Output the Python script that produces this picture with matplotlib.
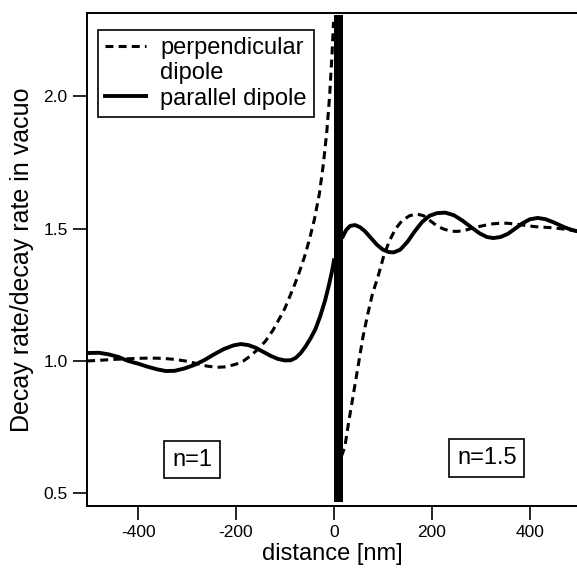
import matplotlib
matplotlib.use("Agg")
import matplotlib.pyplot as plt
from matplotlib.lines import Line2D

plt.rcParams["font.family"] = ["Liberation Sans", "DejaVu Sans"]
plt.rcParams["axes.unicode_minus"] = False

# perpendicular dipole (dashed), n=1 side and n=1.5 side
perp_left_x = [-504, -475, -450, -425, -400, -375, -350, -325, -300, -280, -260,
               -240, -220, -200, -185, -170, -155, -140, -125, -110, -100, -90,
               -80, -70, -60, -50, -40, -30, -22, -15, -9, -4, -1]
perp_left_y = [1.00, 1.003, 1.006, 1.008, 1.01, 1.011, 1.01, 1.006, 0.999, 0.99,
               0.981, 0.976, 0.978, 0.988, 1.0, 1.02, 1.045, 1.075, 1.115, 1.165,
               1.20, 1.245, 1.29, 1.34, 1.395, 1.46, 1.535, 1.63, 1.74, 1.86,
               2.0, 2.16, 2.28]
perp_right_x = [15, 22, 30, 40, 50, 59, 68, 78, 90, 102, 114, 126, 139, 154, 169,
                183, 196, 210, 225, 240, 251, 265, 280, 295, 310, 325, 340, 353,
                370, 390, 410, 427, 445, 460, 480, 496]
perp_right_y = [0.64, 0.675, 0.77, 0.88, 0.99, 1.09, 1.17, 1.25, 1.32, 1.40, 1.457,
                1.50, 1.53, 1.548, 1.555, 1.548, 1.53, 1.51, 1.497, 1.49, 1.489,
                1.492, 1.50, 1.507, 1.513, 1.518, 1.52, 1.52, 1.517, 1.512, 1.507,
                1.505, 1.503, 1.50, 1.495, 1.49]

# parallel dipole (solid)
par_left_x = [-504, -480, -460, -440, -420, -400, -380, -360, -343, -325, -305,
              -285, -265, -245, -225, -205, -190, -175, -160, -145, -130, -115,
              -100, -88, -78, -68, -58, -48, -38, -28, -18, -10, -4, 0]
par_left_y = [1.03, 1.031, 1.025, 1.015, 1.0, 0.99, 0.978, 0.968, 0.962, 0.963,
              0.972, 0.985, 1.003, 1.025, 1.045, 1.059, 1.064, 1.06, 1.05, 1.035,
              1.02, 1.008, 1.002, 1.003, 1.012, 1.03, 1.055, 1.085, 1.12, 1.17,
              1.23, 1.29, 1.34, 1.38]
par_right_x = [18, 25, 33, 43, 53, 63, 75, 88, 100, 112, 122, 135, 150, 165, 180,
               195, 210, 227, 245, 262, 280, 297, 312, 325, 340, 355, 370, 385,
               400, 416, 432, 450, 470, 485, 496]
par_right_y = [1.47, 1.495, 1.51, 1.513, 1.505, 1.49, 1.465, 1.438, 1.42, 1.411,
               1.41, 1.42, 1.45, 1.49, 1.525, 1.548, 1.558, 1.56, 1.55, 1.53,
               1.505, 1.482, 1.468, 1.464, 1.468, 1.48, 1.50, 1.52, 1.535, 1.54,
               1.535, 1.522, 1.505, 1.495, 1.49]

# interface layer (thick black bar)
layer_x = [0, 18]
layer_y = [0.468, 2.305]

region_labels = ["n=1", "n=1.5"]
region_x = [-290, 312]
region_y = [0.628, 0.634]

fig = plt.figure(figsize=(5.77, 5.71), dpi=100)
ax = fig.add_axes([0.151, 0.114, 0.849, 0.863])

ax.fill_between(layer_x, layer_y[0], layer_y[1], color="black", lw=0, zorder=3)

dash_kw = dict(color="black", lw=2.2, dashes=(2.6, 1.7))
solid_kw = dict(color="black", lw=2.8, solid_joinstyle="round")
ax.plot(perp_left_x, perp_left_y, **dash_kw)
ax.plot(perp_right_x, perp_right_y, **dash_kw)
ax.plot(par_left_x, par_left_y, **solid_kw)
ax.plot(par_right_x, par_right_y, **solid_kw)

ax.set_xlim(-504, 496)
ax.set_ylim(0.453, 2.313)
ax.set_xticks([-400, -200, 0, 200, 400])
ax.set_yticks([0.5, 1.0, 1.5, 2.0])
ax.set_yticklabels(["0.5", "1.0", "1.5", "2.0"])
ax.tick_params(direction="out", length=10, width=1.2, labelsize=12.5, pad=4)
ax.spines["right"].set_visible(False)
for s in ["left", "bottom", "top"]:
    ax.spines[s].set_linewidth(1.4)

ax.set_xlabel("distance [nm]", fontsize=17, labelpad=2)
ax.set_ylabel("Decay rate/decay rate in vacuo", fontsize=18, labelpad=7)

for lab, x, y in zip(region_labels, region_x, region_y):
    ax.text(x, y, lab, fontsize=17, ha="center", va="center",
            bbox=dict(boxstyle="square,pad=0.33", fc="white", ec="black", lw=1.2))

handles = [Line2D([], [], **dash_kw),
           Line2D([], [], lw=0),
           Line2D([], [], **solid_kw)]
labels = ["perpendicular", "dipole", "parallel dipole"]
leg = ax.legend(handles, labels, loc="upper left", bbox_to_anchor=(0.022, 0.966),
                borderaxespad=0, fontsize=17, handlelength=1.75, handletextpad=0.6,
                labelspacing=0.14, borderpad=0.3, fancybox=False, framealpha=1)
leg.get_frame().set_edgecolor("black")
leg.get_frame().set_linewidth(1.2)

fig.savefig("out.png", dpi=100)
